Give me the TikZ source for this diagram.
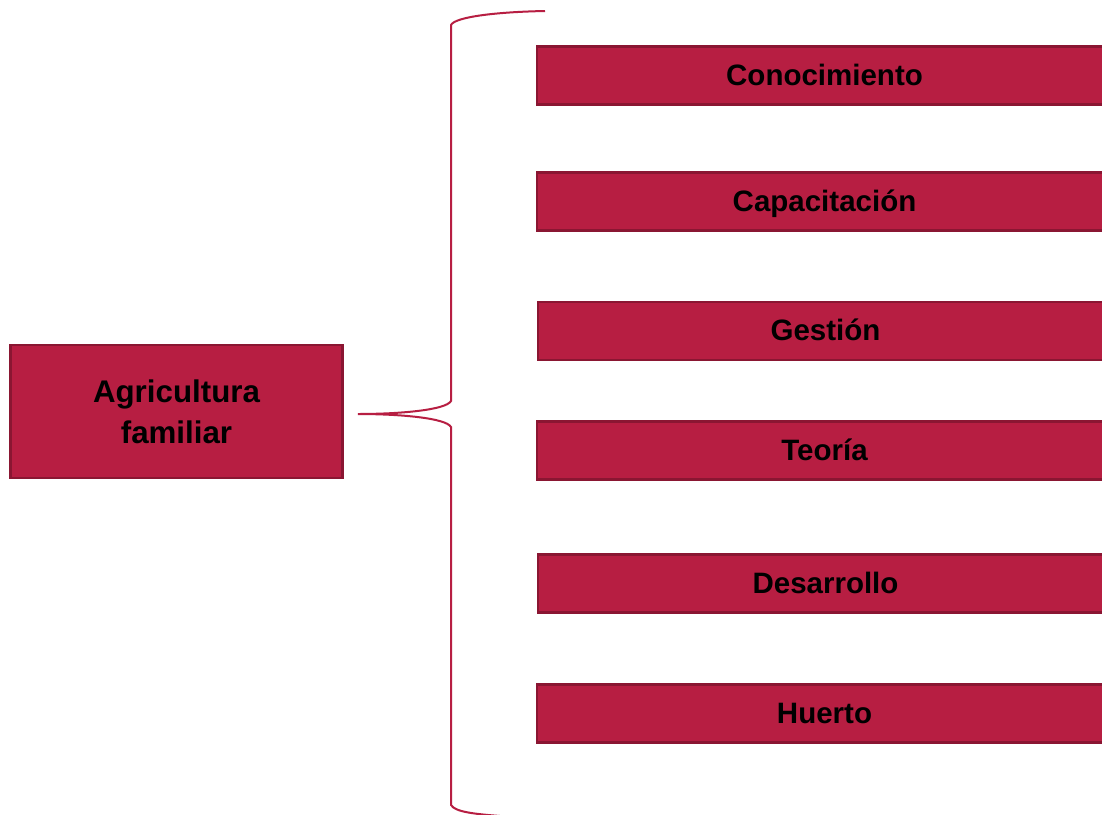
\documentclass[tikz,border=0pt]{standalone}
\usepackage{fontspec}
\setmainfont{Liberation Sans}
\definecolor{boxfill}{HTML}{B71E42}
\definecolor{boxline}{HTML}{8A1632}
\definecolor{bracecol}{HTML}{B71E42}
\begin{document}
\begin{tikzpicture}[x=1pt,y=-1pt,
  rbox/.style={draw=boxline, fill=boxfill, line width=2.6pt, rectangle,
    minimum width=575pt, minimum height=58pt, inner sep=0pt,
    text height=24pt, text depth=5pt,
    font=\fontsize{29.5}{34}\selectfont\bfseries, text=black},
  lbox/.style={draw=boxline, fill=boxfill, line width=2.6pt, rectangle,
    minimum width=332pt, minimum height=133pt, inner sep=0pt, align=center,
    font=\fontsize{31.3}{41}\selectfont\bfseries, text=black},
  bracel/.style={draw=bracecol, line width=2pt}]
\useasboundingbox (0,0) rectangle (1102,814);
\clip (0,0) rectangle (1102,814);
\fill[white] (0,0) rectangle (1102,814);
\node[lbox] (agr) at (176.5,411.5) {Agricultura\\familiar};
\node[rbox] (k1) at (824.5,75.5) {Conocimiento};
\node[rbox] (k2) at (824.5,201.5) {Capacitación};
\node[rbox] (k3) at (825.5,331) {Gestión};
\node[rbox] (k4) at (824.5,450.5) {Teoría};
\node[rbox] (k5) at (825.5,583.5) {Desarrollo};
\node[rbox] (k6) at (824.5,713.5) {Huerto};
\coordinate (tip) at ([xshift=14pt]agr.east |- 0,414);
\coordinate (topend) at (545,11);
\coordinate (botend) at (500,816);
\draw[bracel] (topend) .. controls (495,12) and (455,17) .. (451,25)
  -- (451,401) .. controls (446,410) and (400,414) .. (tip)
  .. controls (400,414) and (446,418) .. (451,427)
  -- (451,805) .. controls (455,812) and (475,814) .. (botend);
\end{tikzpicture}
\end{document}
